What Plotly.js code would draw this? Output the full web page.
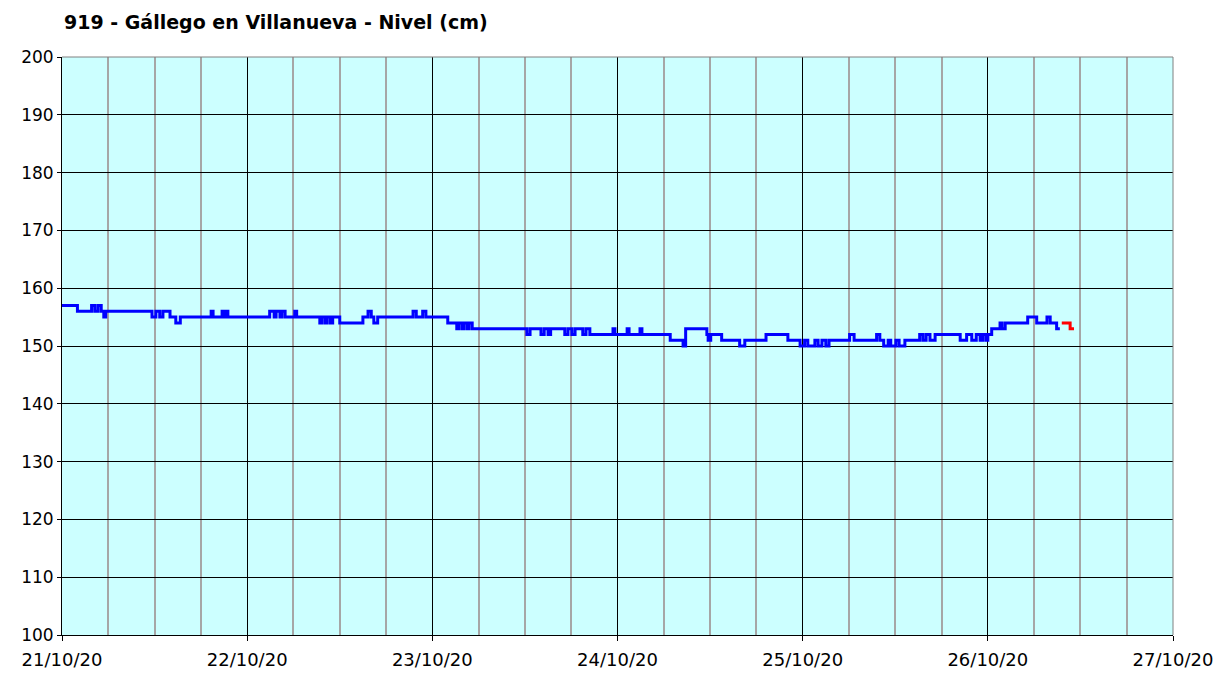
<!DOCTYPE html>
<html>
<head>
<meta charset="utf-8">
<script src="https://cdn.plot.ly/plotly-3.0.1.min.js"></script>
<style>html,body{margin:0;padding:0;background:#fff;}#chart{width:1232px;height:675px;}</style>
</head>
<body>
<div id="chart"></div>
<script>
// Nivel observado (cm) - cambios de lectura
const blueTimes = [
 "2020-10-21 00:00","2020-10-21 02:00","2020-10-21 03:50","2020-10-21 04:15","2020-10-21 04:40","2020-10-21 05:05","2020-10-21 05:25","2020-10-21 05:40",
 "2020-10-21 11:40","2020-10-21 12:10","2020-10-21 12:40","2020-10-21 13:05","2020-10-21 14:00","2020-10-21 14:45","2020-10-21 15:20",
 "2020-10-21 19:20","2020-10-21 19:35","2020-10-21 20:45","2020-10-21 21:00","2020-10-21 21:15","2020-10-21 21:30",
 "2020-10-22 02:55","2020-10-22 03:30","2020-10-22 03:45","2020-10-22 04:15","2020-10-22 04:30","2020-10-22 04:55",
 "2020-10-22 06:10","2020-10-22 06:25","2020-10-22 09:25","2020-10-22 09:40","2020-10-22 10:05","2020-10-22 10:20","2020-10-22 10:45","2020-10-22 11:05",
 "2020-10-22 12:00","2020-10-22 15:00","2020-10-22 15:40","2020-10-22 16:05","2020-10-22 16:25","2020-10-22 16:55",
 "2020-10-22 21:30","2020-10-22 21:55","2020-10-22 22:45","2020-10-22 23:10",
 "2020-10-23 02:00","2020-10-23 03:10","2020-10-23 03:25","2020-10-23 03:50","2020-10-23 04:05","2020-10-23 04:30","2020-10-23 04:45","2020-10-23 05:10",
 "2020-10-23 12:15","2020-10-23 12:40","2020-10-23 14:05","2020-10-23 14:30","2020-10-23 15:00","2020-10-23 15:20","2020-10-23 17:10","2020-10-23 17:35",
 "2020-10-23 18:05","2020-10-23 18:30","2020-10-23 19:30","2020-10-23 19:55","2020-10-23 20:25","2020-10-23 23:25","2020-10-23 23:40",
 "2020-10-24 01:15","2020-10-24 01:30","2020-10-24 02:55","2020-10-24 03:10","2020-10-24 06:50","2020-10-24 08:30","2020-10-24 08:50",
 "2020-10-24 11:35","2020-10-24 11:45","2020-10-24 12:05","2020-10-24 13:30","2020-10-24 15:50","2020-10-24 16:30","2020-10-24 19:15","2020-10-24 22:05","2020-10-24 23:40",
 "2020-10-25 00:15","2020-10-25 00:40","2020-10-25 01:35","2020-10-25 02:00","2020-10-25 02:30","2020-10-25 03:00","2020-10-25 03:25",
 "2020-10-25 06:05","2020-10-25 06:40","2020-10-25 09:35","2020-10-25 10:00","2020-10-25 10:30","2020-10-25 11:05","2020-10-25 11:25","2020-10-25 12:05","2020-10-25 12:30","2020-10-25 13:15",
 "2020-10-25 15:10","2020-10-25 15:35","2020-10-25 16:00","2020-10-25 16:30","2020-10-25 17:10","2020-10-25 20:25","2020-10-25 21:15","2020-10-25 21:55","2020-10-25 22:30","2020-10-25 23:00","2020-10-25 23:20","2020-10-25 23:45",
 "2020-10-26 00:00","2020-10-26 00:30","2020-10-26 01:35","2020-10-26 01:50","2020-10-26 02:15","2020-10-26 05:10","2020-10-26 06:20","2020-10-26 07:40","2020-10-26 08:05","2020-10-26 08:55","2020-10-26 09:20"
];
const blueLevels = [
 157,156,157,156,157,156,155,156,
 155,156,155,156,155,154,155,
 156,155,156,155,156,155,
 156,155,156,155,156,155,
 156,155,154,155,154,155,154,155,
 154,155,156,155,154,155,
 156,155,156,155,
 154,153,154,153,154,153,154,153,
 152,153,152,153,152,153,152,153,
 152,153,152,153,152,153,152,
 153,152,153,152,151,150,153,
 152,151,152,151,150,151,152,151,150,
 151,150,151,150,151,150,151,
 152,151,152,151,150,151,150,151,150,151,
 152,151,152,151,152,151,152,151,152,151,152,151,
 152,153,154,153,154,155,154,155,154,153,153
];
// Tramo final (rojo)
const redTimes = ["2020-10-26 09:35","2020-10-26 10:40","2020-10-26 11:10"];
const redLevels = [154,153,153];

const titleText = "919 - Gállego en Villanueva - Nivel (cm)";
const xStart = "2020-10-21 00:00", xEnd = "2020-10-27 00:00";

const font = "DejaVu Sans, Verdana, sans-serif";
const traces = [
 {x: blueTimes, y: blueLevels, type: "scatter", mode: "lines", line: {color: "#0000ff", width: 3, shape: "hv"}, hoverinfo: "x+y"},
 {x: redTimes, y: redLevels, type: "scatter", mode: "lines", line: {color: "#ff0000", width: 3, shape: "hv"}, hoverinfo: "x+y"}
];
const layout = {
 width: 1232, height: 675,
 margin: {l: 62, r: 59, t: 57, b: 40},
 paper_bgcolor: "#ffffff",
 plot_bgcolor: "#ccffff",
 showlegend: false,
 font: {family: font, color: "#000000", size: 17},
 title: {text: "<b>" + titleText + "</b>", x: 0, xref: "paper", xanchor: "left", y: 0.967, yanchor: "middle", font: {family: font, size: 19, color: "#000000"}, pad: {l: 2}},
 xaxis: {
  type: "date", range: [xStart, xEnd], dtick: 86400000, tick0: xStart,
  tickformat: "%d/%m/%y", ticks: "outside", ticklen: 5, tickcolor: "#000",
  ticklabelstandoff: 3,
  showgrid: true, gridcolor: "#000000", gridwidth: 1,
  showline: true, linecolor: "#000000", linewidth: 1, mirror: false,
  minor: {dtick: 21600000, tick0: xStart, showgrid: true, gridcolor: "#a6a6a6", gridwidth: 2, ticks: ""},
  tickfont: {family: font, size: 18, color: "#000"}, zeroline: false, fixedrange: true
 },
 yaxis: {
  range: [100, 200], dtick: 10, ticks: "outside", ticklen: 4, tickcolor: "#000",
  ticklabelstandoff: 0,
  showgrid: true, gridcolor: "#000000", gridwidth: 1,
  showline: true, linecolor: "#000000", linewidth: 1,
  tickfont: {family: font, size: 17, color: "#000"}, zeroline: false, fixedrange: true
 },
 shapes: [
  {type: "line", xref: "paper", yref: "paper", x0: 0, x1: 1, y0: 1, y1: 1, line: {color: "#808080", width: 1}},
  {type: "line", xref: "paper", yref: "paper", x0: 1, x1: 1, y0: 0, y1: 1, line: {color: "#808080", width: 1}}
 ]
};
Plotly.newPlot("chart", traces, layout, {displayModeBar: false, staticPlot: true});
</script>
</body>
</html>
